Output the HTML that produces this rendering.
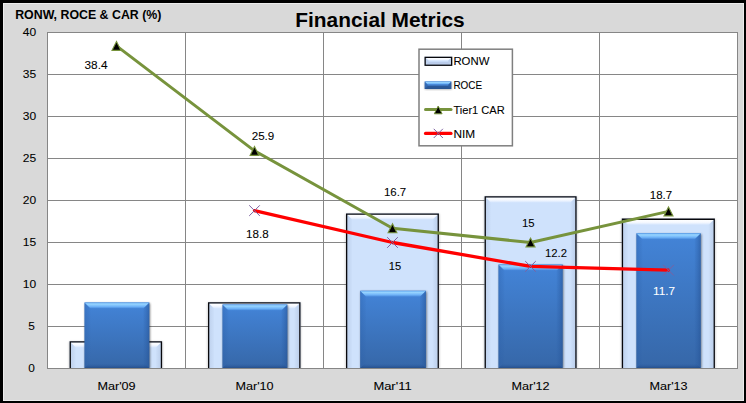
<!DOCTYPE html>
<html><head><meta charset="utf-8"><title>Financial Metrics</title>
<style>
html,body{margin:0;padding:0;background:#d9d9d9;}
body{width:746px;height:403px;overflow:hidden;font-family:"Liberation Sans",sans-serif;}
svg{display:block;}
text{font-family:"Liberation Sans",sans-serif;fill:#000;}
.t{font-size:11px;stroke:#000;stroke-width:0.08px;}
.l{font-size:10.7px;stroke:#000;stroke-width:0.08px;}
.g{stroke:#868686;stroke-width:1;shape-rendering:crispEdges;}
</style></head><body>
<svg width="746" height="403" viewBox="0 0 746 403">
<defs>
<linearGradient id="gb" x1="0" y1="0" x2="0" y2="1"><stop offset="0" stop-color="#4384d8"/><stop offset="1" stop-color="#3667a8"/></linearGradient>
<linearGradient id="gbt" x1="0" y1="0" x2="0" y2="1"><stop offset="0" stop-color="#5fa6f0"/><stop offset="0.25" stop-color="#98d5ff"/><stop offset="0.65" stop-color="#72b6f9"/><stop offset="1" stop-color="#4687da"/></linearGradient>
<linearGradient id="gbl" x1="0" y1="0" x2="1" y2="0"><stop offset="0" stop-color="#2b5ea6" stop-opacity="0.35"/><stop offset="1" stop-color="#2b5ea6" stop-opacity="0.05"/></linearGradient>
<linearGradient id="gbr" x1="1" y1="0" x2="0" y2="0"><stop offset="0" stop-color="#234f90" stop-opacity="0.55"/><stop offset="1" stop-color="#2b5ea6" stop-opacity="0.1"/></linearGradient>
<linearGradient id="gbb" x1="0" y1="1" x2="0" y2="0"><stop offset="0" stop-color="#1f4680" stop-opacity="0.7"/><stop offset="1" stop-color="#2b5ea6" stop-opacity="0"/></linearGradient>
<linearGradient id="glt" x1="0" y1="0" x2="0" y2="1"><stop offset="0" stop-color="#ffffff"/><stop offset="0.5" stop-color="#f6f9ff"/><stop offset="1" stop-color="#d6e6fd"/></linearGradient>
<linearGradient id="gll" x1="0" y1="0" x2="1" y2="0"><stop offset="0" stop-color="#bfd2ee"/><stop offset="1" stop-color="#cde0fa"/></linearGradient>
<linearGradient id="glr" x1="1" y1="0" x2="0" y2="0"><stop offset="0" stop-color="#bccfeb"/><stop offset="1" stop-color="#cde0fa"/></linearGradient>
<filter id="sh" x="-10%" y="-10%" width="120%" height="120%"><feGaussianBlur stdDeviation="0.9"/></filter>
</defs>
<rect x="0" y="0" width="746" height="403" fill="#000"/>
<rect x="3" y="3" width="741" height="398" fill="#ececec"/>
<rect x="4" y="4" width="739" height="396" fill="#d9d9d9"/>
<rect x="47" y="32" width="691" height="337" fill="#fff"/>

<line class="g" x1="47" y1="32.5" x2="738" y2="32.5"/>
<line class="g" x1="47" y1="74.5" x2="738" y2="74.5"/>
<line class="g" x1="47" y1="116.5" x2="738" y2="116.5"/>
<line class="g" x1="47" y1="158.5" x2="738" y2="158.5"/>
<line class="g" x1="47" y1="200.5" x2="738" y2="200.5"/>
<line class="g" x1="47" y1="242.5" x2="738" y2="242.5"/>
<line class="g" x1="47" y1="284.5" x2="738" y2="284.5"/>
<line class="g" x1="47" y1="326.5" x2="738" y2="326.5"/>
<line class="g" x1="47" y1="368.5" x2="738" y2="368.5"/>
<line class="g" x1="47.5" y1="32" x2="47.5" y2="369"/>
<line class="g" x1="185.5" y1="32" x2="185.5" y2="369"/>
<line class="g" x1="323.5" y1="32" x2="323.5" y2="369"/>
<line class="g" x1="461.5" y1="32" x2="461.5" y2="369"/>
<line class="g" x1="599.5" y1="32" x2="599.5" y2="369"/>
<line class="g" x1="737.5" y1="32" x2="737.5" y2="369"/>
<clipPath id="cp"><rect x="40" y="25" width="704" height="343"/></clipPath>
<g clip-path="url(#cp)">
<rect x="69.1" y="341.7" width="93.5" height="26.8" fill="#000" opacity="0.22" filter="url(#sh)"/>
<rect x="69.6" y="341.2" width="92.5" height="26.8" fill="#cfe2fc"/>
<polygon points="70.8,342.4 75.8,347.4 75.8,368.0 70.8,368.0" fill="url(#gll)"/>
<polygon points="160.9,342.4 155.9,347.4 155.9,368.0 160.9,368.0" fill="url(#glr)"/>
<polygon points="70.8,342.4 160.9,342.4 155.9,347.4 75.8,347.4" fill="url(#glt)"/>
<path d="M70.25,368.0 V341.85 H161.45 V368.0" fill="none" stroke="#08080c" stroke-width="1.3"/>
<rect x="207.5" y="302.7" width="93.5" height="65.8" fill="#000" opacity="0.22" filter="url(#sh)"/>
<rect x="208.0" y="302.2" width="92.5" height="65.8" fill="#cfe2fc"/>
<polygon points="209.2,303.4 214.2,308.4 214.2,368.0 209.2,368.0" fill="url(#gll)"/>
<polygon points="299.3,303.4 294.3,308.4 294.3,368.0 299.3,368.0" fill="url(#glr)"/>
<polygon points="209.2,303.4 299.3,303.4 294.3,308.4 214.2,308.4" fill="url(#glt)"/>
<path d="M208.65,368.0 V302.85 H299.85 V368.0" fill="none" stroke="#08080c" stroke-width="1.3"/>
<rect x="345.5" y="213.9" width="93.9" height="154.6" fill="#000" opacity="0.22" filter="url(#sh)"/>
<rect x="346.0" y="213.4" width="92.9" height="154.6" fill="#cfe2fc"/>
<polygon points="347.2,214.6 352.2,219.6 352.2,368.0 347.2,368.0" fill="url(#gll)"/>
<polygon points="437.7,214.6 432.7,219.6 432.7,368.0 437.7,368.0" fill="url(#glr)"/>
<polygon points="347.2,214.6 437.7,214.6 432.7,219.6 352.2,219.6" fill="url(#glt)"/>
<path d="M346.65,368.0 V214.05 H438.25 V368.0" fill="none" stroke="#08080c" stroke-width="1.3"/>
<rect x="484.1" y="196.7" width="93.0" height="171.8" fill="#000" opacity="0.22" filter="url(#sh)"/>
<rect x="484.6" y="196.2" width="92.0" height="171.8" fill="#cfe2fc"/>
<polygon points="485.8,197.4 490.8,202.4 490.8,368.0 485.8,368.0" fill="url(#gll)"/>
<polygon points="575.4,197.4 570.4,202.4 570.4,368.0 575.4,368.0" fill="url(#glr)"/>
<polygon points="485.8,197.4 575.4,197.4 570.4,202.4 490.8,202.4" fill="url(#glt)"/>
<path d="M485.25,368.0 V196.85 H575.95 V368.0" fill="none" stroke="#08080c" stroke-width="1.3"/>
<rect x="621.3" y="219.1" width="94.1" height="149.4" fill="#000" opacity="0.22" filter="url(#sh)"/>
<rect x="621.8" y="218.6" width="93.1" height="149.4" fill="#cfe2fc"/>
<polygon points="623.0,219.8 628.0,224.8 628.0,368.0 623.0,368.0" fill="url(#gll)"/>
<polygon points="713.7,219.8 708.7,224.8 708.7,368.0 713.7,368.0" fill="url(#glr)"/>
<polygon points="623.0,219.8 713.7,219.8 708.7,224.8 628.0,224.8" fill="url(#glt)"/>
<path d="M622.45,368.0 V219.25 H714.25 V368.0" fill="none" stroke="#08080c" stroke-width="1.3"/>
<rect x="85.1" y="303.3" width="65.0" height="65.5" fill="#000" opacity="0.5" filter="url(#sh)"/>
<rect x="84.5" y="302.5" width="64.8" height="65.5" fill="url(#gb)"/>
<polygon points="84.5,302.5 90.5,308.5 90.5,368.0 84.5,368.0" fill="url(#gbl)"/>
<polygon points="149.3,302.5 143.3,308.5 143.3,368.0 149.3,368.0" fill="url(#gbr)"/>
<polygon points="84.5,368.0 149.3,368.0 144.8,363.5 89.0,363.5" fill="url(#gbb)"/>
<polygon points="84.5,302.5 149.3,302.5 143.3,308.5 90.5,308.5" fill="url(#gbt)"/>
<rect x="223.1" y="305.3" width="65.0" height="63.5" fill="#000" opacity="0.5" filter="url(#sh)"/>
<rect x="222.5" y="304.5" width="64.8" height="63.5" fill="url(#gb)"/>
<polygon points="222.5,304.5 228.5,310.5 228.5,368.0 222.5,368.0" fill="url(#gbl)"/>
<polygon points="287.3,304.5 281.3,310.5 281.3,368.0 287.3,368.0" fill="url(#gbr)"/>
<polygon points="222.5,368.0 287.3,368.0 282.8,363.5 227.0,363.5" fill="url(#gbb)"/>
<polygon points="222.5,304.5 287.3,304.5 281.3,310.5 228.5,310.5" fill="url(#gbt)"/>
<rect x="360.8" y="291.6" width="65.9" height="77.2" fill="#000" opacity="0.5" filter="url(#sh)"/>
<rect x="360.2" y="290.8" width="65.7" height="77.2" fill="url(#gb)"/>
<polygon points="360.2,290.8 366.2,296.8 366.2,368.0 360.2,368.0" fill="url(#gbl)"/>
<polygon points="425.9,290.8 419.9,296.8 419.9,368.0 425.9,368.0" fill="url(#gbr)"/>
<polygon points="360.2,368.0 425.9,368.0 421.4,363.5 364.7,363.5" fill="url(#gbb)"/>
<polygon points="360.2,290.8 425.9,290.8 419.9,296.8 366.2,296.8" fill="url(#gbt)"/>
<rect x="499.1" y="265.3" width="64.3" height="103.5" fill="#000" opacity="0.5" filter="url(#sh)"/>
<rect x="498.5" y="264.5" width="64.1" height="103.5" fill="url(#gb)"/>
<polygon points="498.5,264.5 504.5,270.5 504.5,368.0 498.5,368.0" fill="url(#gbl)"/>
<polygon points="562.6,264.5 556.6,270.5 556.6,368.0 562.6,368.0" fill="url(#gbr)"/>
<polygon points="498.5,368.0 562.6,368.0 558.1,363.5 503.0,363.5" fill="url(#gbb)"/>
<polygon points="498.5,264.5 562.6,264.5 556.6,270.5 504.5,270.5" fill="url(#gbt)"/>
<rect x="637.0" y="234.1" width="64.5" height="134.7" fill="#000" opacity="0.5" filter="url(#sh)"/>
<rect x="636.4" y="233.3" width="64.3" height="134.7" fill="url(#gb)"/>
<polygon points="636.4,233.3 642.4,239.3 642.4,368.0 636.4,368.0" fill="url(#gbl)"/>
<polygon points="700.7,233.3 694.7,239.3 694.7,368.0 700.7,368.0" fill="url(#gbr)"/>
<polygon points="636.4,368.0 700.7,368.0 696.2,363.5 640.9,363.5" fill="url(#gbb)"/>
<polygon points="636.4,233.3 700.7,233.3 694.7,239.3 642.4,239.3" fill="url(#gbt)"/>
</g>
<line class="g" x1="47" y1="368.5" x2="738" y2="368.5"/>
<polyline points="116.5,45.9 254.5,150.9 392.5,228.2 530.5,242.5 668.5,211.4" fill="none" stroke="#77933c" stroke-width="3" stroke-linejoin="round" stroke-linecap="round"/>
<polyline points="254.5,210.6 392.5,242.5 530.5,266.4 668.5,270.2" fill="none" stroke="#ff0000" stroke-width="3.3" stroke-linejoin="round" stroke-linecap="round"/>
<polygon points="116.5,41.5 121.0,50.4 112.0,50.4" fill="#000" stroke="#77933c" stroke-width="1.1"/>
<polygon points="254.5,146.5 258.9,155.4 250.1,155.4" fill="#000" stroke="#77933c" stroke-width="1.1"/>
<polygon points="392.5,223.8 396.9,232.7 388.1,232.7" fill="#000" stroke="#77933c" stroke-width="1.1"/>
<polygon points="530.5,238.1 535.0,246.9 526.0,246.9" fill="#000" stroke="#77933c" stroke-width="1.1"/>
<polygon points="668.5,207.0 673.0,215.9 664.0,215.9" fill="#000" stroke="#77933c" stroke-width="1.1"/>
<path d="M249.2,205.3 L259.8,215.9 M259.8,205.3 L249.2,215.9" stroke="#7d60a0" stroke-width="1" fill="none"/>
<path d="M387.2,237.2 L397.8,247.8 M397.8,237.2 L387.2,247.8" stroke="#7d60a0" stroke-width="1" fill="none"/>
<path d="M525.2,261.1 L535.8,271.7 M535.8,261.1 L525.2,271.7" stroke="#7d60a0" stroke-width="1" fill="none"/>
<path d="M663.2,264.9 L673.8,275.5 M673.8,264.9 L663.2,275.5" stroke="#7d60a0" stroke-width="1" fill="none"/>
<text class="t" x="28.3" y="372.0" textLength="6.6" lengthAdjust="spacingAndGlyphs">0</text>
<text class="t" x="28.3" y="330.0" textLength="6.6" lengthAdjust="spacingAndGlyphs">5</text>
<text class="t" x="22.7" y="288.0" textLength="13.4" lengthAdjust="spacingAndGlyphs">10</text>
<text class="t" x="22.7" y="246.0" textLength="13.4" lengthAdjust="spacingAndGlyphs">15</text>
<text class="t" x="22.7" y="204.0" textLength="13.4" lengthAdjust="spacingAndGlyphs">20</text>
<text class="t" x="22.7" y="162.0" textLength="13.4" lengthAdjust="spacingAndGlyphs">25</text>
<text class="t" x="22.7" y="120.0" textLength="13.4" lengthAdjust="spacingAndGlyphs">30</text>
<text class="t" x="22.7" y="78.0" textLength="13.4" lengthAdjust="spacingAndGlyphs">35</text>
<text class="t" x="22.7" y="36.0" textLength="13.4" lengthAdjust="spacingAndGlyphs">40</text>
<text class="t" x="97.4" y="389.8" textLength="38.2" lengthAdjust="spacingAndGlyphs">Mar'09</text>
<text class="t" x="235.4" y="389.8" textLength="38.2" lengthAdjust="spacingAndGlyphs">Mar'10</text>
<text class="t" x="373.4" y="389.8" textLength="38.2" lengthAdjust="spacingAndGlyphs">Mar'11</text>
<text class="t" x="511.4" y="389.8" textLength="38.2" lengthAdjust="spacingAndGlyphs">Mar'12</text>
<text class="t" x="649.4" y="389.8" textLength="38.2" lengthAdjust="spacingAndGlyphs">Mar'13</text>
<text class="t" x="84.5" y="68.9" textLength="23.0" lengthAdjust="spacingAndGlyphs">38.4</text>
<text class="t" x="251.7" y="139.7" textLength="22.6" lengthAdjust="spacingAndGlyphs">25.9</text>
<text class="t" x="383.9" y="195.8" textLength="22.3" lengthAdjust="spacingAndGlyphs">16.7</text>
<text class="t" x="521.9" y="226.9" textLength="12.6" lengthAdjust="spacingAndGlyphs">15</text>
<text class="t" x="649.8" y="198.9" textLength="22.4" lengthAdjust="spacingAndGlyphs">18.7</text>
<text class="t" x="246.1" y="237.7" textLength="22.6" lengthAdjust="spacingAndGlyphs">18.8</text>
<text class="t" x="388.8" y="269.9" textLength="12.4" lengthAdjust="spacingAndGlyphs">15</text>
<text class="t" x="545.0" y="256.8" textLength="22.0" lengthAdjust="spacingAndGlyphs">12.2</text>
<text class="t" x="653.1" y="294.9" textLength="22.0" lengthAdjust="spacingAndGlyphs" style="fill:#fff;stroke:#fff">11.7</text>
<text x="295.3" y="26.7" font-weight="bold" font-size="20.8px" textLength="169.4" lengthAdjust="spacingAndGlyphs">Financial Metrics</text>
<text x="15.2" y="18.6" font-weight="bold" font-size="12.4px" textLength="146.2" lengthAdjust="spacingAndGlyphs">RONW, ROCE &amp; CAR (%)</text>
<rect x="419" y="49.2" width="93.4" height="96.6" fill="#fff" stroke="#7f7f7f" stroke-width="1.5"/>
<rect x="424.5" y="56.7" width="27.8" height="9.2" fill="#cfe2fc"/>
<polygon points="425.6,57.8 451.2,57.8 448.2,60.8 428.6,60.8" fill="url(#glt)"/>
<polygon points="425.6,64.8 451.2,64.8 448.2,61.8 428.6,61.8" fill="#b4c7e6" opacity="0.8"/>
<polygon points="425.6,57.8 428.6,60.8 428.6,61.8 425.6,64.8" fill="#c0d2ee"/>
<polygon points="451.2,57.8 448.2,60.8 448.2,61.8 451.2,64.8" fill="#bccfeb"/>
<rect x="425.15" y="57.35" width="26.5" height="7.9" fill="none" stroke="#08080c" stroke-width="1.3"/>
<rect x="424.9" y="82.0" width="26.6" height="7.4" fill="#000" opacity="0.35" filter="url(#sh)"/>
<rect x="424.7" y="81.5" width="26.6" height="7.5" fill="url(#gb)"/>
<polygon points="424.7,81.5 451.3,81.5 448.3,84.7 427.7,84.7" fill="url(#gbt)"/>
<polygon points="424.7,89 451.3,89 448.3,86 427.7,86" fill="#1f4680" opacity="0.55"/>
<polygon points="424.7,81.5 427.7,84.7 427.7,86 424.7,89" fill="#2b5ea6" opacity="0.5"/>
<polygon points="451.3,81.5 448.3,84.7 448.3,86 451.3,89" fill="#234f90" opacity="0.6"/>
<line x1="425.5" y1="109.4" x2="451" y2="109.4" stroke="#77933c" stroke-width="3" stroke-linecap="round"/>
<polygon points="438.2,106.0 442.1,113.8 434.3,113.8" fill="#000" stroke="#77933c" stroke-width="1.0"/>
<line x1="425.5" y1="133.4" x2="451" y2="133.4" stroke="#ff0000" stroke-width="3.2" stroke-linecap="round"/>
<path d="M433.7,128.8 L442.9,138.0 M442.9,128.8 L433.7,138.0" stroke="#7d60a0" stroke-width="1" fill="none"/>
<text class="l" x="453.4" y="64.7" textLength="36.0" lengthAdjust="spacingAndGlyphs">RONW</text>
<text class="l" x="453.4" y="88.7" textLength="28.7" lengthAdjust="spacingAndGlyphs">ROCE</text>
<text class="l" x="453.4" y="113.6" textLength="51.4" lengthAdjust="spacingAndGlyphs">Tier1 CAR</text>
<text class="l" x="453.4" y="137.7" textLength="21.7" lengthAdjust="spacingAndGlyphs">NIM</text>
</svg></body></html>
